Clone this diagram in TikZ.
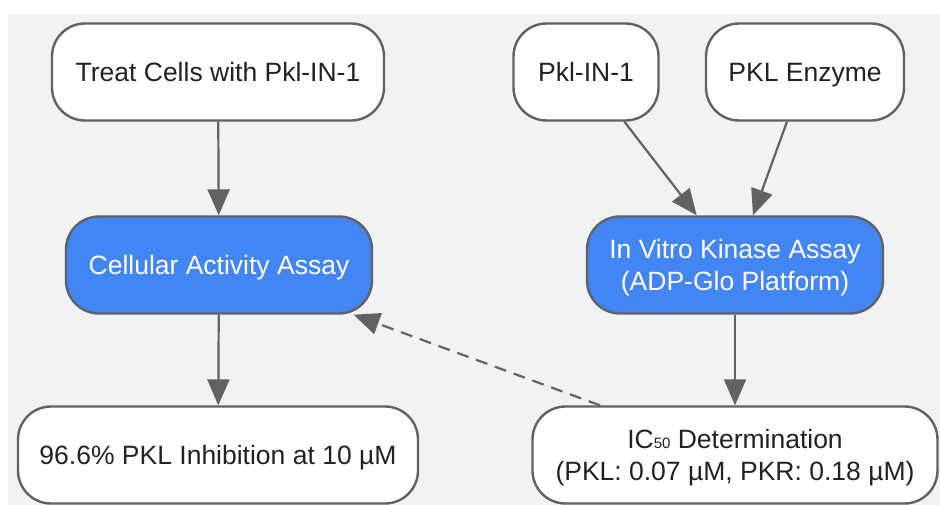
\documentclass[tikz,border=0pt]{standalone}
\usepackage{fontspec}
\setmainfont{Liberation Sans}
\usepackage{xcolor}
\usetikzlibrary{arrows.meta}
\usetikzlibrary{calc}

\definecolor{bggray}{HTML}{F1F2F4}
\definecolor{edgegray}{HTML}{5F6368}
\definecolor{boxblue}{HTML}{4285F4}
\definecolor{txtdark}{HTML}{222222}

\tikzset{
    stepnode/.style={draw=edgegray, line width=2.4pt, rounded corners=33pt, fill=white,
        text=txtdark, align=center, minimum height=97pt, inner sep=0pt, text depth=0pt,
        font=\fontsize{26.5}{32}\selectfont},
    assaynode/.style={stepnode, fill=boxblue, text=white},
    flowarrow/.style={draw=edgegray, line width=2.2pt, -{Triangle[length=26pt, width=22pt]}},
    feedback/.style={flowarrow, dash pattern=on 12pt off 8pt}
}

\begin{document}
\begin{tikzpicture}[x=1pt, y=-1pt]
        \useasboundingbox (0,0) rectangle (940,505);
        \fill[bggray] (8,14) rectangle (940,505);
        % top row
        \node[stepnode, minimum width=332pt] (treat) at (218,72) {Treat Cells with Pkl-IN-1};
        \node[stepnode, minimum width=145pt] (inhib) at (586,72) {Pkl-IN-1};
        \node[stepnode, minimum width=198pt] (enzyme) at (805,72) {PKL Enzyme};
        % assays
        \node[assaynode, minimum width=306pt] (cellassay) at (219,265) {Cellular Activity Assay};
        \node[assaynode, minimum width=296pt] (kinassay) at (735,265) {In Vitro Kinase Assay\\(ADP-Glo Platform)};
        % results
        \node[stepnode, minimum width=400pt] (inhibres) at (218,455) {96.6\% PKL Inhibition at 10 µM};
        \node[stepnode, minimum width=405pt] (icres) at (735,455) {IC{\fontsize{15}{15}\selectfont 50} Determination\\(PKL: 0.07 µM, PKR: 0.18 µM)};
        \draw[flowarrow] (treat) -- (cellassay);
        \draw[flowarrow] (cellassay) -- (inhibres);
        \draw[flowarrow] (inhib) -- (kinassay);
        \draw[flowarrow] (enzyme) -- (kinassay);
        \draw[flowarrow] (kinassay) -- (icres);
        \draw[feedback] (icres) -- (cellassay);
    \end{tikzpicture}
\end{document}
